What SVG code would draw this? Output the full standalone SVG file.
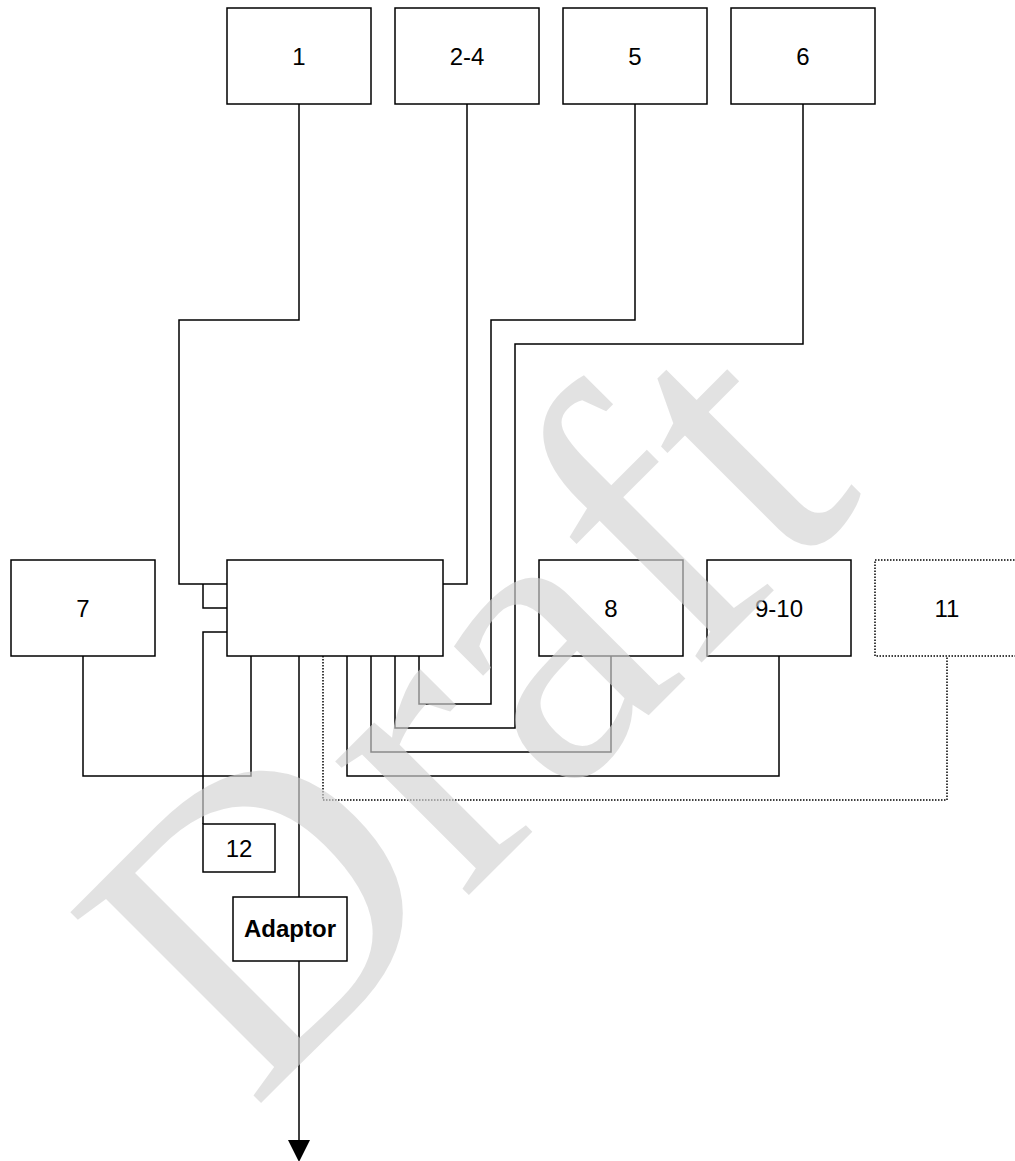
<svg xmlns="http://www.w3.org/2000/svg" width="1015" height="1161" viewBox="0 0 1015 1161">
<style>
.box{fill:#fff;stroke:#000;stroke-width:1.5}
.dot{fill:#fff;stroke:#000;stroke-width:1.5;stroke-dasharray:1.5 1.5}
.lbl{font-family:"Liberation Sans",Arial,sans-serif;font-size:24px;text-anchor:middle;fill:#000}
.bold{font-weight:bold}
.wire{fill:none;stroke:#000;stroke-width:1.5}
.dwire{fill:none;stroke:#000;stroke-width:1.5;stroke-dasharray:1.5 1.5}
.wm{font-family:"Liberation Serif","Times New Roman",serif;font-size:412px;text-anchor:middle;fill:#d4d4d4;opacity:0.65}
</style>
<rect width="1015" height="1161" fill="#fff"/>
<g id="connectors">
<polyline class="wire" points="299,104 299,320 179,320 179,584 227,584"/>
<polyline class="wire" points="203,584 203,608 227,608"/>
<polyline class="wire" points="227,632 203,632 203,824"/>
<polyline class="wire" points="467,104 467,584 443,584"/>
<polyline class="wire" points="83,656 83,776 251,776 251,656"/>
<polyline class="wire" points="299,656 299,897"/>
<polyline class="wire" points="299,961 299,1142"/>
<polygon points="288,1140 310,1140 299,1162" fill="#000"/>
<polyline class="dwire" points="323,656 323,800 947,800 947,656"/>
<polyline class="wire" points="347,656 347,776 779,776 779,656"/>
<polyline class="wire" points="371,656 371,752 611,752 611,656"/>
<polyline class="wire" points="395,656 395,728 515,728 515,344 803,344 803,104"/>
<polyline class="wire" points="419,656 419,704 491,704 491,320 635,320 635,104"/>
</g>
<g id="n1"><rect class="box" x="227" y="8" width="144" height="96"/><text class="lbl" x="299" y="65">1</text></g>
<g id="n2-4"><rect class="box" x="395" y="8" width="144" height="96"/><text class="lbl" x="467" y="65">2-4</text></g>
<g id="n5"><rect class="box" x="563" y="8" width="144" height="96"/><text class="lbl" x="635" y="65">5</text></g>
<g id="n6"><rect class="box" x="731" y="8" width="144" height="96"/><text class="lbl" x="803" y="65">6</text></g>
<g id="n7"><rect class="box" x="11" y="560" width="144" height="96"/><text class="lbl" x="83" y="617">7</text></g>
<g id="central"><rect class="box" x="227" y="560" width="216" height="96"/></g>
<g id="n8"><rect class="box" x="539" y="560" width="144" height="96"/><text class="lbl" x="611" y="617">8</text></g>
<g id="n9-10"><rect class="box" x="707" y="560" width="144" height="96"/><text class="lbl" x="779" y="617">9-10</text></g>
<g id="n11"><rect class="dot" x="875" y="560" width="144" height="96"/><text class="lbl" x="947" y="617">11</text></g>
<g id="n12"><rect class="box" x="203" y="824" width="72" height="48"/><text class="lbl" x="239" y="857">12</text></g>
<g id="adaptor"><rect class="box" x="233" y="897" width="114" height="64"/><text class="lbl bold" x="290" y="937">Adaptor</text></g>
<text class="wm" x="560" y="804" transform="rotate(-45 560 804)">Draft</text>
</svg>
